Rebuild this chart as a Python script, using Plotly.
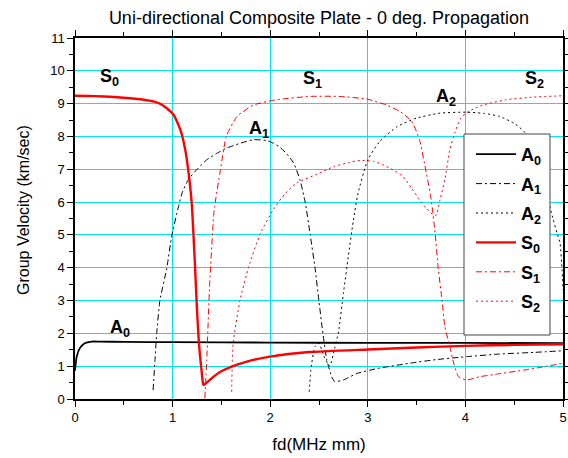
import plotly.graph_objects as go

# ---- data ----
a0_x = [0, 0.017, 0.05, 0.10, 0.17, 0.25, 0.5, 1.0, 2.0, 3.0, 4.0, 5.0]
a0_y = [0.86, 1.29, 1.55, 1.70, 1.75, 1.75, 1.74, 1.73, 1.72, 1.71, 1.71, 1.70]

a1_x = [0.80, 0.82, 0.837, 0.87, 0.94, 0.99, 1.06, 1.10, 1.16, 1.25, 1.35, 1.45, 1.55, 1.70,
        1.83, 1.96, 2.03, 2.10, 2.17, 2.24, 2.305, 2.36, 2.41, 2.46, 2.50, 2.54, 2.58, 2.63,
        2.66, 2.75, 2.89, 3.10, 3.43, 3.70, 4.01, 4.35, 4.70, 5.0]
a1_y = [0.27, 1.20, 2.00, 3.00, 3.98, 4.95, 5.86, 6.30, 6.68, 7.00, 7.29, 7.48, 7.64, 7.80,
        7.90, 7.88, 7.80, 7.67, 7.47, 7.19, 6.68, 5.97, 5.00, 3.98, 2.97, 2.00, 1.19, 0.68,
        0.53, 0.58, 0.78, 0.93, 1.09, 1.20, 1.29, 1.37, 1.42, 1.47]

a2_x = [2.40, 2.42, 2.46, 2.50, 2.55, 2.61, 2.66, 2.70, 2.75, 2.80, 2.85, 2.90, 3.00, 3.12,
        3.30, 3.50, 3.74, 4.01, 4.20, 4.35, 4.50, 4.60, 4.70, 4.80, 4.87, 4.90, 4.94, 4.97,
        4.99, 5.00]
a2_y = [0.22, 0.98, 1.60, 1.70, 1.30, 1.00, 1.54, 2.05, 3.22, 4.34, 5.40, 6.27, 7.29, 7.84,
        8.30, 8.56, 8.71, 8.74, 8.70, 8.61, 8.40, 8.15, 7.60, 6.80, 5.81, 5.46, 5.05, 4.75,
        3.93, 3.32]

s0_x = [0, 0.2, 0.4, 0.53, 0.7, 0.8, 0.87, 0.94, 1.01, 1.08, 1.13, 1.16, 1.195, 1.23, 1.25,
        1.27, 1.30, 1.315, 1.35, 1.42, 1.49, 1.60, 1.76, 2.0, 2.4, 3.0, 3.5, 4.0, 4.5, 5.0]
s0_y = [9.24, 9.23, 9.20, 9.17, 9.12, 9.07, 9.00, 8.86, 8.66, 8.20, 7.59, 6.98, 6.00, 4.03,
        2.71, 1.70, 0.78, 0.43, 0.50, 0.68, 0.83, 0.98, 1.14, 1.29, 1.43, 1.51, 1.57, 1.62,
        1.65, 1.67]

s1_x = [1.33, 1.35, 1.38, 1.42, 1.43, 1.49, 1.55, 1.66, 1.83, 2.07, 2.41, 2.70, 2.99, 3.19,
        3.33, 3.45, 3.53, 3.60, 3.65, 3.69, 3.72, 3.76, 3.79, 3.84, 3.88, 3.93, 4.01, 4.15,
        4.30, 4.60, 4.80, 5.0]
s1_y = [0.02, 1.19, 3.53, 5.56, 5.86, 6.98, 8.00, 8.61, 8.96, 9.12, 9.22, 9.22, 9.14, 8.96,
        8.76, 8.46, 7.90, 6.88, 6.07, 5.05, 4.03, 3.02, 2.20, 1.60, 1.09, 0.68, 0.58, 0.68,
        0.75, 0.88, 0.98, 1.09]

s2_x = [1.605, 1.62, 1.69, 1.78, 1.90, 2.03, 2.15, 2.27, 2.48, 2.65, 2.80, 2.92, 3.06, 3.16,
        3.26, 3.36, 3.45, 3.53, 3.60, 3.67, 3.70, 3.74, 3.79, 3.84, 3.89, 3.95, 4.01, 4.10,
        4.18, 4.42, 4.70, 5.0]
s2_y = [0.22, 1.70, 3.00, 4.03, 5.05, 5.76, 6.25, 6.58, 6.85, 7.08, 7.20, 7.27, 7.24, 7.13,
        6.98, 6.78, 6.42, 6.07, 5.81, 5.61, 5.60, 6.07, 6.68, 7.59, 8.10, 8.55, 8.72, 8.86,
        8.96, 9.12, 9.20, 9.24]

series = [
    ("A<sub>0</sub>", a0_x, a0_y, "black", 1.8, "solid"),
    ("A<sub>1</sub>", a1_x, a1_y, "black", 1.0, "6px,3px,2px,3px"),
    ("A<sub>2</sub>", a2_x, a2_y, "black", 1.0, "2px,3px"),
    ("S<sub>0</sub>", s0_x, s0_y, "#FF0000", 2.4, "solid"),
    ("S<sub>1</sub>", s1_x, s1_y, "#FF0000", 1.0, "6px,3px,2px,3px"),
    ("S<sub>2</sub>", s2_x, s2_y, "#FF0000", 1.0, "2px,3px"),
]

# curve labels: (text, x, y)
labels = [
    ("S<sub>0</sub>", 0.35, 9.80),
    ("A<sub>1</sub>", 1.89, 8.22),
    ("S<sub>1</sub>", 2.43, 9.75),
    ("A<sub>2</sub>", 3.80, 9.18),
    ("S<sub>2</sub>", 4.71, 9.75),
    ("A<sub>0</sub>", 0.46, 2.15),
]

FONT = "Arial, Liberation Sans, sans-serif"
W, H = 568, 458
L, R, T, B = 75, 5, 38, 59
PW, PH = W - L - R, H - T - B


def px_to_paper(px, py):
    return (px - L) / PW, 1 - (py - T) / PH


fig = go.Figure()
for i, (name, xs, ys, col, w, dash) in enumerate(series):
    fig.add_trace(go.Scatter(
        x=xs, y=ys, mode="lines", name="<b>" + name + "</b>",
        line=dict(color=col, width=w, dash=dash, shape="spline", smoothing=0.5),
        legendgroup=str(i), showlegend=True,
    ))

for t, x, y in labels:
    fig.add_annotation(x=x, y=y, text="<b>" + t + "</b>", showarrow=False,
                       font=dict(family=FONT, size=18, color="black"),
                       xanchor="center", yanchor="middle")

# y-axis title (placed as in the reference)
tx, ty = px_to_paper(23, 210)
fig.add_annotation(xref="paper", yref="paper", x=tx, y=ty, text="Group Velocity (km/sec)",
                   textangle=-90, showarrow=False, xanchor="center", yanchor="middle",
                   font=dict(family=FONT, size=16, color="black"))

# legend box
bx0, by1 = px_to_paper(464, 134)
bx1, by0 = px_to_paper(550, 335)
fig.add_shape(type="rect", xref="paper", yref="paper", x0=bx0, x1=bx1, y0=by0, y1=by1,
              fillcolor="white", line=dict(color="#444444", width=1), layer="above")

axis_common = dict(
    showline=True, linecolor="black", linewidth=1.5, mirror="ticks",
    ticks="outside", ticklen=6, tickwidth=1, tickcolor="black",
    showgrid=True, gridcolor="#00E6F0", gridwidth=1, zeroline=False,
    tickfont=dict(family=FONT, size=13, color="black"),
    minor=dict(ticks="outside", ticklen=4, tickcolor="black", dtick=0.5, showgrid=False),
    automargin=False,
)

fig.update_xaxes(range=[0, 5], dtick=1, tick0=0,
                 title=dict(text="fd(MHz mm)", font=dict(family=FONT, size=17, color="black"), standoff=14),
                 **axis_common)
fig.update_yaxes(range=[0, 11], dtick=1, tick0=0, **axis_common)

lx, ly = px_to_paper(471, 136)
fig.update_layout(
    width=W, height=H, autosize=False,
    margin=dict(l=L, r=R, t=T, b=B, autoexpand=False),
    paper_bgcolor="white", plot_bgcolor="white",
    title=dict(text="Uni-directional Composite Plate - 0 deg. Propagation",
               font=dict(family=FONT, size=18, color="black"),
               x=319 / W, xanchor="center", y=1 - 18 / H, yanchor="middle"),
    showlegend=True,
    legend=dict(x=lx, y=ly, xanchor="left", yanchor="top",
                bgcolor="rgba(0,0,0,0)", borderwidth=0,
                font=dict(family=FONT, size=18, color="black"),
                tracegroupgap=3, itemwidth=40),
)

fig.write_html("out.html",
               config={"displayModeBar": False},
               post_script="document.body.style.margin='0px';document.body.style.overflow='hidden';")
